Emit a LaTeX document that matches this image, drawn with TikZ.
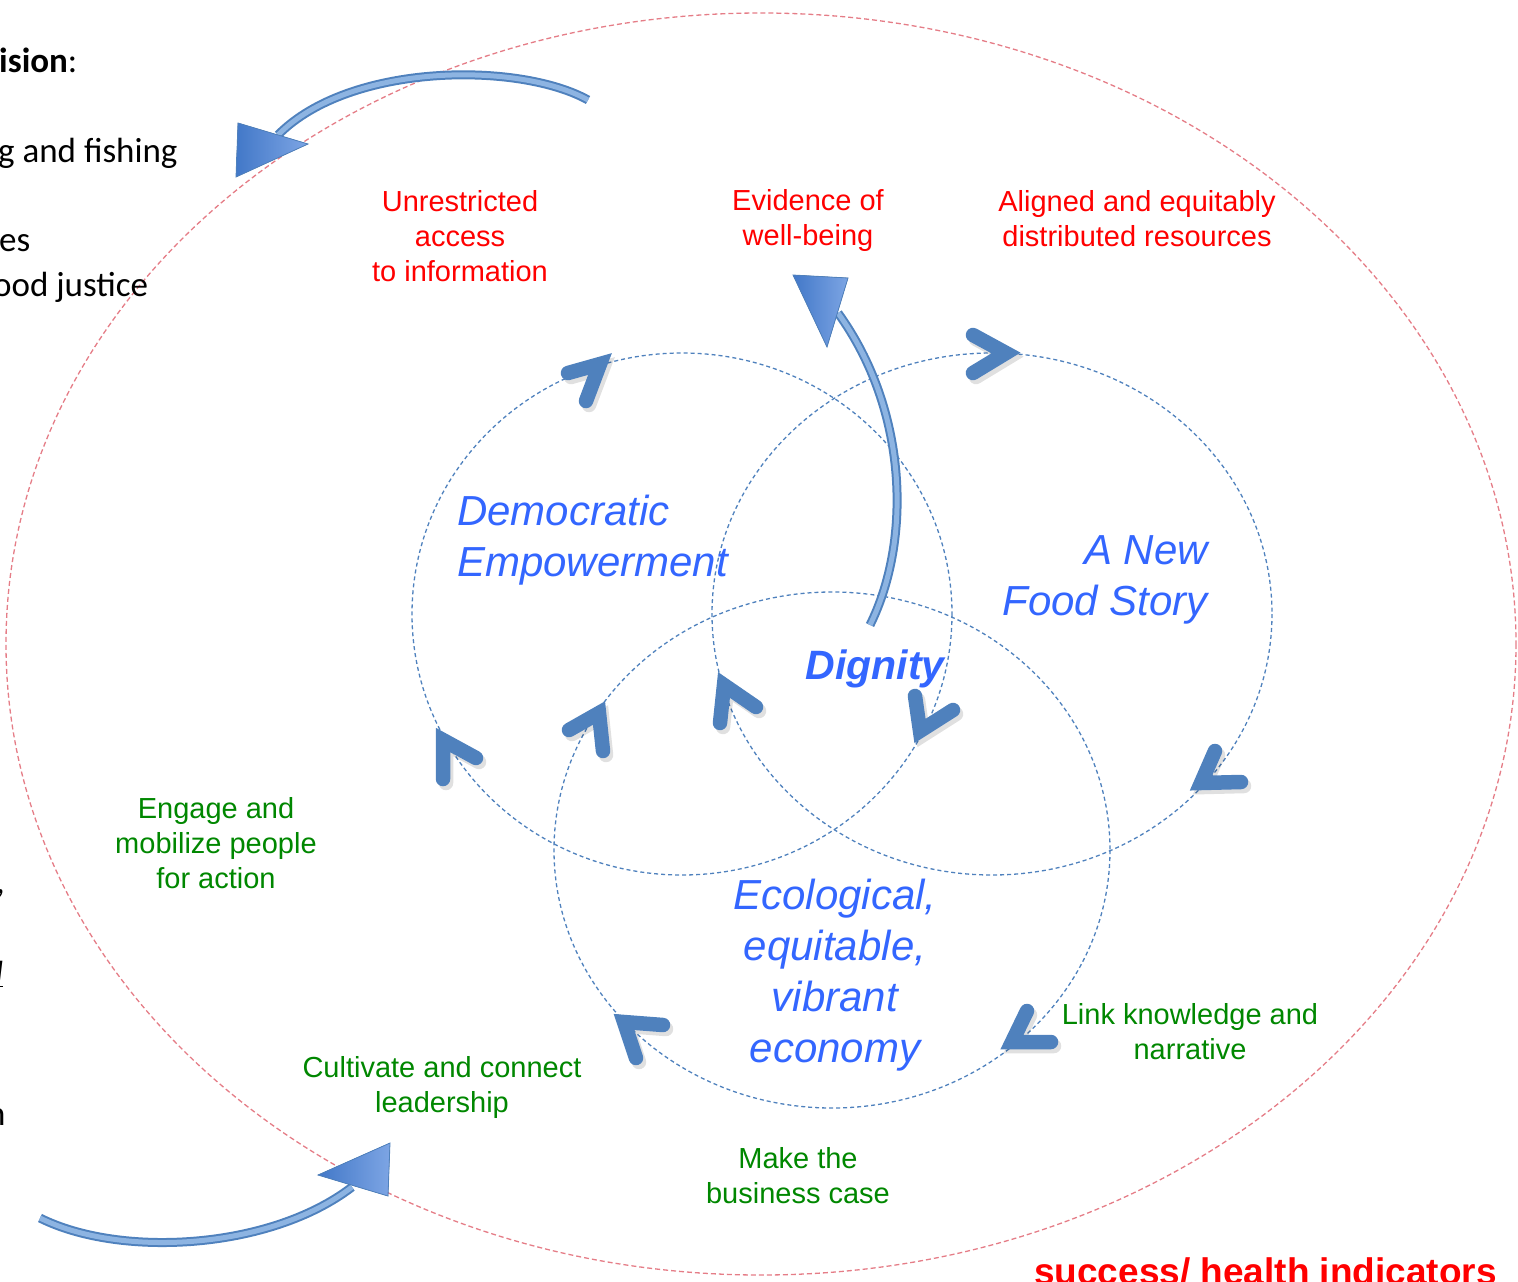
\documentclass[tikz,border=0pt]{standalone}
\usepackage{fontspec}
\setmainfont{Liberation Sans}
\newfontfamily\calfont{Carlito}
\definecolor{cblue}{RGB}{79,129,189}
\definecolor{cred}{RGB}{255,0,0}
\definecolor{cgreen}{RGB}{0,135,0}
\definecolor{tblue}{RGB}{51,102,255}
\definecolor{pinkd}{RGB}{229,125,135}
\definecolor{lblue}{RGB}{141,180,226}
\definecolor{tri1}{RGB}{66,120,200}
\definecolor{tri2}{RGB}{125,165,228}
\tikzset{
  circ/.style={draw=cblue, line width=1.3pt, dash pattern=on 4pt off 3pt},
  outer/.style={draw=pinkd, line width=1.3pt, dash pattern=on 5pt off 3pt},
  chev/.style={draw=cblue, line width=14.5pt, line cap=round, line join=miter},
  chevshadow/.style={draw=black, opacity=0.12, line width=14.5pt, line cap=round, line join=miter},
  redlbl/.style={text=cred, font=\fontsize{29}{35}\selectfont, align=center, inner sep=0pt},
  greenlbl/.style={text=cgreen, font=\fontsize{29}{35}\selectfont, align=center, inner sep=0pt},
  bluelbl/.style={text=tblue, font=\fontsize{42}{51}\selectfont\itshape, inner sep=0pt},
  blacklbl/.style={text=black, font=\calfont\fontsize{35}{43}\selectfont, inner sep=0pt},
  shaftout/.style={draw=cblue, line width=9pt},
  shaftin/.style={draw=lblue, line width=5pt},
  headtri/.style={left color=tri1, right color=tri2, draw=cblue, line width=0.8pt},
}
\begin{document}
\begin{tikzpicture}[x=1pt,y=-1pt]
\useasboundingbox (0,0) rectangle (1518,1282);

% outer ellipse and circles
\draw[outer] (761,644) ellipse [x radius=755, y radius=631];
\coordinate (c1) at (682,614);
\coordinate (c2) at (992,614);
\coordinate (c3) at (832,850);
\draw[circ] (c1) ellipse [x radius=270, y radius=261];
\draw[circ] (c2) ellipse [x radius=280, y radius=261];
\draw[circ] (c3) ellipse [x radius=278, y radius=258];

% left cut-off text (cropped in the reference)
\node[blacklbl, anchor=base west] (t1) at (-1,72) {\bfseries ision\mdseries:};
\node[blacklbl, anchor=base west] (t2) at (-2,162) {g and fishing};
\node[blacklbl, anchor=base west] (t3) at (-1,251) {es};
\node[blacklbl, anchor=base west] (t4) at (-7,296) {ood justice};
\node[blacklbl, anchor=base west] (t5) at (-4,893) {,};
\node[blacklbl, anchor=base west] (t6) at (-5,985) {\itshape\underline{l}};
\node[blacklbl, anchor=base west] (t7) at (-13,1125) {n};

% chevron arrowheads on circles
\foreach \a/\v/\b in {
  {(568,373)}/{(600,364)}/{(586,401)},
  {(973,335)}/{(1006,353)}/{(973,373)},
  {(1215,751)}/{(1201,783)}/{(1241,782)},
  {(1027,1011)}/{(1012,1042)}/{(1051,1042)},
  {(663,1025)}/{(624,1022)}/{(636,1058)},
  {(476,758)}/{(443,740)}/{(443,779)},
  {(569,730)}/{(599,713)}/{(603,751)},
  {(756,707)}/{(724,685)}/{(720,723)},
  {(915,696)}/{(920,731)}/{(953,710)}}{
  \draw[chevshadow, shift={(3,4)}] \a -- \v -- \b;
  \draw[chev] \a -- \v -- \b;
}

% curved block arrows
\coordinate (a1s) at (588,100);
\coordinate (a1e) at (278,135);
\draw[shaftout] (a1s) .. controls (520,62) and (350,62) .. (a1e);
\draw[shaftin] (a1s) .. controls (520,62) and (350,62) .. (a1e);
\filldraw[headtri] (238,123) -- (236,177) -- (308,144) -- cycle;

\coordinate (a2s) at (40,1218);
\coordinate (a2e) at (352,1187);
\draw[shaftout] (a2s) .. controls (120,1258) and (270,1250) .. (a2e);
\draw[shaftin] (a2s) .. controls (120,1258) and (270,1250) .. (a2e);
\filldraw[headtri] (318,1175) -- (390,1143) -- (388,1196) -- cycle;

\coordinate (a3s) at (870,625);
\coordinate (a3e) at (838,313);
\draw[shaftout] (a3s) .. controls (912,540) and (908,410) .. (a3e);
\draw[shaftin] (a3s) .. controls (912,540) and (908,410) .. (a3e);
\filldraw[headtri] (793,275) -- (848,278) -- (827,347) -- cycle;

% red labels
\node[redlbl] (unr) at (460,236) {Unrestricted\\access\\to information};
\node[redlbl] (evi) at (808,220) {Evidence of\\well-being};
\node[redlbl] (ali) at (1137,219) {Aligned and equitably\\distributed resources};

% blue labels
\node[bluelbl, align=left, anchor=west] (dem) at (457,540) {Democratic\\Empowerment};
\node[bluelbl, align=right, anchor=east] (nfs) at (1208,580) {A New\\Food Story};
\node[text=tblue, font=\fontsize{41}{49}\selectfont\bfseries\itshape, inner sep=0pt] (dig) at (875,669) {Dignity};
\node[bluelbl, align=center] (eco) at (835,975) {Ecological,\\equitable,\\vibrant\\economy};

% green labels
\node[greenlbl] (eng) at (216,843) {Engage and\\mobilize people\\for action};
\node[greenlbl] (cul) at (442,1087) {Cultivate and connect\\leadership};
\node[greenlbl] (mak) at (798,1176) {Make the\\business case};
\node[greenlbl] (lnk) at (1190,1032) {Link knowledge and\\narrative};

% bottom right
\node[text=cred, font=\fontsize{37}{44}\selectfont\bfseries, inner sep=0pt, anchor=base east] (suc) at (1497,1284) {success/ health indicators};
\end{tikzpicture}
\end{document}
